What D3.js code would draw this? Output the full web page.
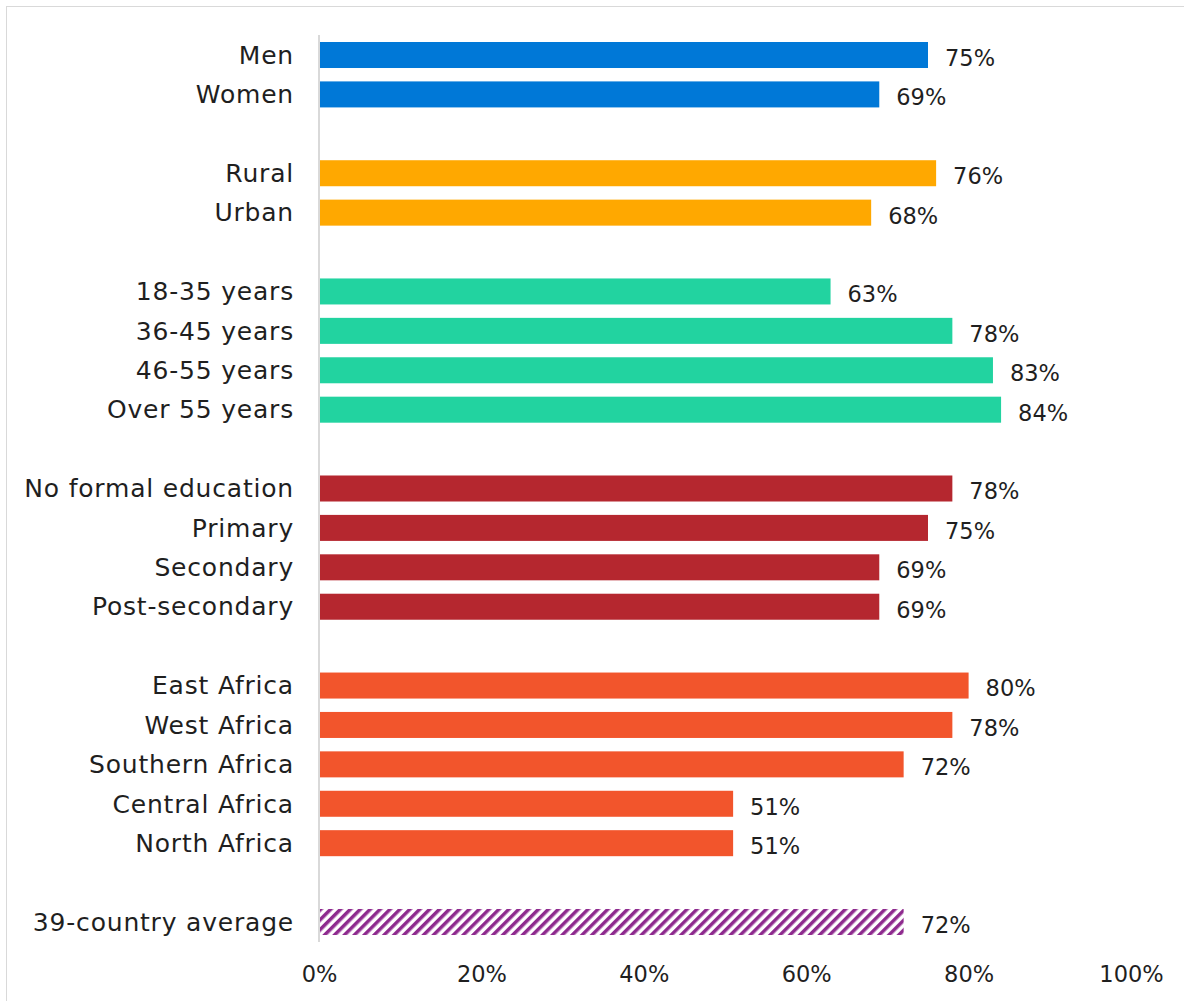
<!DOCTYPE html>
<html><head><meta charset="utf-8">
<script src="https://cdn.jsdelivr.net/npm/d3@7"></script>
<style>
html,body{margin:0;padding:0;background:#fff;}
text{font-family:"Century Gothic","URW Gothic","DejaVu Sans",sans-serif;fill:#1f1f1f;}
</style></head><body>
<svg id="chart" width="1184" height="1001"></svg>
<script>
const categories = ["Men","Women","",
  "Rural","Urban"," ",
  "18-35 years","36-45 years","46-55 years","Over 55 years","  ",
  "No formal education","Primary","Secondary","Post-secondary","   ",
  "East Africa","West Africa","Southern Africa","Central Africa","North Africa","    ",
  "39-country average"];
const values = [75,69,null,76,68,null,63,78,83,84,null,78,75,69,69,null,80,78,72,51,51,null,72];
const groups = ["gender","gender",null,"loc","loc",null,"age","age","age","age",null,"edu","edu","edu","edu",null,"reg","reg","reg","reg","reg",null,"avg"];
const groupColors = {gender:"#0078D7",loc:"#FFA800",age:"#22D3A0",edu:"#B5272F",reg:"#F2552C",avg:"url(#hatch)"};
const xTicks = [0,20,40,60,80,100];

const svg = d3.select("#chart");
const defs = svg.append("defs");
const pat = defs.append("pattern").attr("id","hatch").attr("patternUnits","userSpaceOnUse")
  .attr("width",7).attr("height",7).attr("patternTransform","rotate(45)");
pat.append("rect").attr("width",7).attr("height",7).attr("fill","#fff");
pat.append("rect").attr("width",3.5).attr("height",7).attr("fill","#8E2A8E");

svg.append("rect").attr("x",6.5).attr("y",6.5).attr("width",1300).attr("height",1300)
  .attr("fill","none").attr("stroke","#d9d9d9").attr("stroke-width",1);

const x = d3.scaleLinear().domain([0,100]).range([319,1131]);
const y = d3.scaleBand().domain(categories).range([35.3,941.7]).paddingInner(0.34).paddingOuter(0.17);

svg.append("line").attr("x1",x(0)).attr("x2",x(0)).attr("y1",35).attr("y2",942)
  .attr("stroke","#d9d9d9").attr("stroke-width",2);

const rows = categories.map((c,i)=>({c,v:values[i],g:groups[i]})).filter(d=>d.v!==null);

svg.selectAll("rect.bar").data(rows).join("rect").attr("class","bar")
  .attr("x",x(0)+1).attr("y",d=>y(d.c)).attr("height",y.bandwidth())
  .attr("width",d=>x(d.v)-x(0)-1).attr("fill",d=>groupColors[d.g]);

svg.selectAll("text.cat").data(rows).join("text").attr("class","cat")
  .attr("x",294).attr("y",d=>y(d.c)+y.bandwidth()/2).attr("dy","0.35em")
  .attr("text-anchor","end").attr("font-size",25).attr("letter-spacing","0.8px").text(d=>d.c);

svg.selectAll("text.val").data(rows).join("text").attr("class","val")
  .attr("x",d=>x(d.v)+17).attr("y",d=>y(d.c)+y.bandwidth()/2+3).attr("dy","0.35em")
  .attr("font-size",22.5).text(d=>d.v+"%");

const ax = svg.append("g").attr("transform","translate(0,974)")
  .call(d3.axisBottom(x).tickValues(xTicks).tickFormat(d=>d+"%").tickSize(0).tickPadding(0));
ax.select(".domain").remove();
ax.selectAll("text").attr("font-size",22.5).attr("dy","0.35em").attr("y",0)
  .style("font-family",'"Century Gothic","URW Gothic","DejaVu Sans",sans-serif').attr("fill","#1f1f1f");
</script>
</body></html>
